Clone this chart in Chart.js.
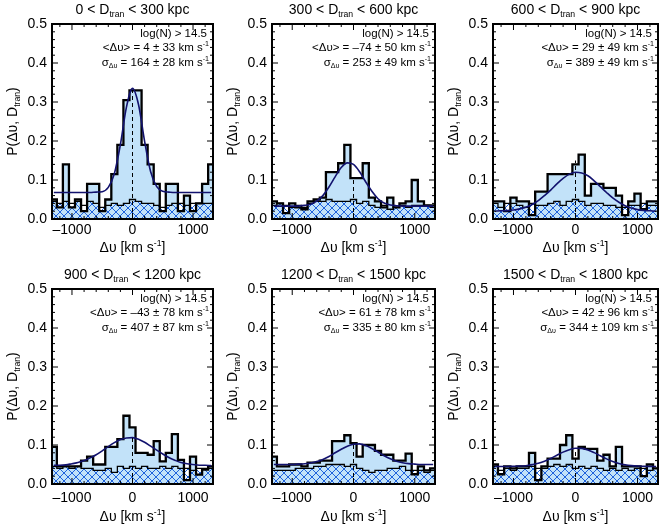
<!DOCTYPE html>
<html>
<head>
<meta charset="utf-8">
<script src="https://cdn.jsdelivr.net/npm/chart.js@4"></script>
<style>
  html, body { margin: 0; padding: 0; background: #fff; }
  #wrap { position: relative; width: 664px; height: 532px; overflow: hidden; }
  #wrap canvas { position: absolute; }
</style>
</head>
<body>
<div id="wrap"></div>
<script>
// bin centres of the velocity histograms (km/s)
const binCenters = [-1300, -1200, -1100, -1000, -900, -800, -700, -600, -500, -400, -300, -200, -100,
  0, 100, 200, 300, 400, 500, 600, 700, 800, 900, 1000, 1100, 1200, 1300];
const BIN_W = 100;

const xTicks = [-1000, 0, 1000];
const xMinor = [-1200, -800, -600, -400, -200, 200, 400, 600, 800, 1200];
const yTicks = [0, 0.1, 0.2, 0.3, 0.4, 0.5];
const yMinor = [0.02, 0.04, 0.06, 0.08, 0.12, 0.14, 0.16, 0.18, 0.22, 0.24, 0.26, 0.28,
  0.32, 0.34, 0.36, 0.38, 0.42, 0.44, 0.46, 0.48];

const dRanges = [[0, 300], [300, 600], [600, 900], [900, 1200], [1200, 1500], [1500, 1800]];
const meanV = [4, -74, 29, -43, 61, 42];
const meanErr = [33, 50, 49, 78, 78, 96];
const sigmaV = [164, 253, 389, 407, 335, 344];
const sigmaErr = [28, 49, 49, 87, 80, 109];

// main histograms (light blue)
const hist1 = [0.05, 0.03, 0.14, 0.03, 0.05, 0.02, 0.09, 0.09, 0.02, 0.05, 0.115, 0.19, 0.305,
  0.33, 0.33, 0.19, 0.14, 0.09, 0.02, 0.09, 0.09, 0.02, 0.06, 0.02, 0.04, 0.09, 0.14];
const hist2 = [0.045, 0.04, 0.015, 0.04, 0.03, 0.025, 0.045, 0.05, 0.055, 0.12, 0.12, 0.143, 0.19,
  0.105, 0.105, 0.143, 0.055, 0.045, 0.03, 0.055, 0.03, 0.04, 0.045, 0.1, 0.045, 0.035, 0.035];
const hist3 = [0.045, 0.045, 0.02, 0.055, 0.045, 0.045, 0.01, 0.07, 0.07, 0.115, 0.115, 0.115, 0.115,
  0.14, 0.165, 0.06, 0.09, 0.09, 0.08, 0.08, 0.06, 0.01, 0.045, 0.065, 0.025, 0.045, 0.045];
const hist4 = [0.095, 0.045, 0.045, 0.045, 0.045, 0.06, 0.07, 0.05, 0.05, 0.095, 0.095, 0.115, 0.175,
  0.145, 0.08, 0.08, 0.075, 0.11, 0.058, 0.08, 0.128, 0.062, 0.01, 0.07, 0.024, 0.037, 0.045];
const hist5 = [0.07, 0.045, 0.045, 0.05, 0.05, 0.045, 0.055, 0.055, 0.06, 0.06, 0.11, 0.11, 0.125,
  0.105, 0.07, 0.1, 0.1, 0.085, 0.075, 0.075, 0.06, 0.06, 0.078, 0.025, 0.045, 0.035, 0.04];
const hist6 = [0.05, 0.025, 0.045, 0.04, 0.045, 0.045, 0.08, 0.01, 0.045, 0.065, 0.065, 0.1, 0.125,
  0.065, 0.095, 0.09, 0.09, 0.06, 0.075, 0.045, 0.095, 0.045, 0.045, 0.045, 0.02, 0.05, 0.04];

// background histograms (hatched)
const bg1 = [0.045, 0.04, 0.045, 0.04, 0.045, 0.035, 0.045, 0.04, 0.03, 0.035, 0.04, 0.035, 0.04,
  0.05, 0.045, 0.04, 0.04, 0.035, 0.03, 0.035, 0.04, 0.04, 0.035, 0.04, 0.04, 0.04, 0.04];
const bg2 = [0.035, 0.04, 0.035, 0.03, 0.035, 0.03, 0.04, 0.045, 0.045, 0.05, 0.045, 0.045, 0.045,
  0.05, 0.04, 0.045, 0.035, 0.03, 0.035, 0.025, 0.03, 0.035, 0.03, 0.035, 0.035, 0.035, 0.03];
const bg3 = [0.04, 0.03, 0.04, 0.04, 0.035, 0.03, 0.04, 0.035, 0.035, 0.04, 0.045, 0.035, 0.045,
  0.05, 0.045, 0.035, 0.04, 0.04, 0.035, 0.035, 0.03, 0.03, 0.035, 0.035, 0.04, 0.035, 0.035];
const bg4 = [0.045, 0.04, 0.045, 0.04, 0.045, 0.04, 0.04, 0.035, 0.035, 0.04, 0.03, 0.045, 0.04,
  0.045, 0.04, 0.045, 0.04, 0.04, 0.045, 0.04, 0.045, 0.04, 0.04, 0.035, 0.04, 0.04, 0.04];
const bg5 = [0.035, 0.035, 0.035, 0.035, 0.04, 0.04, 0.04, 0.045, 0.045, 0.05, 0.05, 0.05, 0.045,
  0.05, 0.04, 0.035, 0.03, 0.035, 0.035, 0.04, 0.04, 0.045, 0.035, 0.035, 0.035, 0.03, 0.035];
const bg6 = [0.045, 0.035, 0.04, 0.035, 0.04, 0.04, 0.045, 0.04, 0.04, 0.045, 0.05, 0.045, 0.05,
  0.04, 0.045, 0.04, 0.045, 0.04, 0.035, 0.04, 0.035, 0.04, 0.035, 0.04, 0.04, 0.035, 0.04];

// gaussian fit curves, read at the bin centres
const fit1 = [0.068, 0.068, 0.068, 0.068, 0.068, 0.068, 0.068, 0.069, 0.070, 0.081, 0.116, 0.191, 0.287,
  0.335, 0.293, 0.199, 0.121, 0.083, 0.071, 0.069, 0.068, 0.068, 0.068, 0.068, 0.068, 0.068, 0.068];
const fit2 = [0.033, 0.033, 0.033, 0.033, 0.0335, 0.035, 0.038, 0.046, 0.060, 0.082, 0.108, 0.132, 0.144,
  0.140, 0.121, 0.095, 0.071, 0.052, 0.041, 0.036, 0.034, 0.033, 0.033, 0.033, 0.033, 0.033, 0.033];
const fit3 = [0.020, 0.021, 0.0215, 0.023, 0.026, 0.030, 0.037, 0.047, 0.060, 0.074, 0.090, 0.104, 0.115,
  0.120, 0.118, 0.111, 0.098, 0.083, 0.068, 0.054, 0.043, 0.034, 0.028, 0.024, 0.022, 0.021, 0.020];
const fit4 = [0.048, 0.048, 0.049, 0.052, 0.055, 0.060, 0.067, 0.075, 0.085, 0.096, 0.106, 0.114, 0.118,
  0.119, 0.115, 0.107, 0.097, 0.087, 0.077, 0.068, 0.061, 0.055, 0.052, 0.050, 0.048, 0.048, 0.047];
const fit5 = [0.050, 0.050, 0.050, 0.050, 0.051, 0.052, 0.054, 0.0575, 0.063, 0.0705, 0.080, 0.089, 0.097,
  0.102, 0.103, 0.099, 0.091, 0.082, 0.0725, 0.0645, 0.0586, 0.0546, 0.0523, 0.051, 0.050, 0.050, 0.050];
const fit6 = [0.045, 0.045, 0.045, 0.0455, 0.046, 0.047, 0.0496, 0.053, 0.0586, 0.0656, 0.0737, 0.0817, 0.0881,
  0.0917, 0.0913, 0.0873, 0.0805, 0.0724, 0.0644, 0.0576, 0.0526, 0.0492, 0.0471, 0.046, 0.0455, 0.045, 0.045];

// height of the dashed line at zero
const dashTop = [0.33, 0.105, 0.15, 0.12, 0.105, 0.09];

const hists = [hist1, hist2, hist3, hist4, hist5, hist6];
const bgs = [bg1, bg2, bg3, bg4, bg5, bg6];
const fits = [fit1, fit2, fit3, fit4, fit5, fit6];

const X_MIN = -1330, X_MAX = 1330;
const FONT = "'Liberation Sans', Arial, Helvetica, sans-serif";
const COLORS = {
  fill: "#c2e2f9",
  hatch: "#1f62dc",
  fit: "#12126e",
  ink: "#000000"
};

// canvas boxes for the 6 panels
const LAYOUT = [
  { left: 0, top: 0, w: 219, h: 262, plotW: 161, tickPad: 3, titleOff: 29 },
  { left: 220, top: 0, w: 221, h: 262, plotW: 163, tickPad: 3, titleOff: 29 },
  { left: 441, top: 0, w: 223, h: 262, plotW: 165, tickPad: 3, titleOff: 29 },
  { left: 0, top: 265, w: 219, h: 267, plotW: 161, tickPad: 6, titleOff: 33 },
  { left: 220, top: 265, w: 221, h: 267, plotW: 163, tickPad: 6, titleOff: 33 },
  { left: 441, top: 265, w: 223, h: 267, plotW: 165, tickPad: 6, titleOff: 33 }
];
const PAD_TOP = 24, Y_AXIS_W = 52, PLOT_H = 195;

function makeHatch() {
  const s = 8;
  const c = document.createElement("canvas");
  c.width = s; c.height = s;
  const g = c.getContext("2d");
  g.strokeStyle = COLORS.hatch;
  g.lineWidth = 1;
  g.beginPath();
  g.moveTo(-1, -1); g.lineTo(s + 1, s + 1);
  g.moveTo(s + 1, -1); g.lineTo(-1, s + 1);
  g.stroke();
  return g.createPattern(c, "repeat");
}

function stepPoints(vals) {
  const pts = binCenters.map((c, i) => ({ x: c - BIN_W / 2, y: vals[i] }));
  pts.push({ x: binCenters[binCenters.length - 1] + BIN_W / 2, y: vals[vals.length - 1] });
  return pts;
}

function fmtNum(v) {
  return v < 0 ? "\u2013" + Math.abs(v) : String(v);
}

function drawRich(ctx, parts, x, y, size, align) {
  const fontFor = (k) => (k ? size * 0.62 : size) + "px " + FONT;
  let w = 0;
  parts.forEach(([t, k]) => { ctx.font = fontFor(k); w += ctx.measureText(t).width; });
  let cx = align === "right" ? x - w : align === "center" ? x - w / 2 : x;
  ctx.textAlign = "left";
  ctx.textBaseline = "middle";
  parts.forEach(([t, k]) => {
    ctx.font = fontFor(k);
    const dy = k === "sub" ? size * 0.3 : k === "sup" ? -size * 0.33 : 0;
    ctx.fillText(t, cx, y + dy);
    cx += ctx.measureText(t).width;
  });
}

const decor = {
  id: "decor",
  afterDatasetsDraw(chart, args, opts) {
    const i = opts.panel;
    const { ctx, chartArea: a, scales: { x, y } } = chart;
    ctx.save();
    ctx.strokeStyle = COLORS.ink;
    ctx.fillStyle = COLORS.ink;

    // inward tick marks on all four sides
    ctx.lineWidth = 1;
    ctx.beginPath();
    const xt = (v, len) => {
      const px = x.getPixelForValue(v);
      ctx.moveTo(px, a.bottom); ctx.lineTo(px, a.bottom - len);
      ctx.moveTo(px, a.top); ctx.lineTo(px, a.top + len);
    };
    const yt = (v, len) => {
      const py = y.getPixelForValue(v);
      ctx.moveTo(a.left, py); ctx.lineTo(a.left + len, py);
      ctx.moveTo(a.right, py); ctx.lineTo(a.right - len, py);
    };
    xTicks.forEach(v => xt(v, 6));
    xMinor.forEach(v => xt(v, 3));
    yTicks.forEach(v => yt(v, 6));
    yMinor.forEach(v => yt(v, 3));
    ctx.stroke();

    // frame
    ctx.lineWidth = 2;
    ctx.strokeRect(a.left, a.top, a.right - a.left, a.bottom - a.top);

    // panel title
    const cxm = (a.left + a.right) / 2;
    const r = dRanges[i];
    drawRich(ctx, [[r[0] + " < D", ""], ["tran", "sub"], [" < " + r[1] + " kpc", ""]],
      cxm, a.top - 14, 14, "center");

    // axis titles
    drawRich(ctx, [["\u0394\u03c5 [km s", ""], ["-1", "sup"], ["]", ""]],
      cxm, a.bottom + opts.titleOff, 14, "center");
    ctx.save();
    ctx.translate(a.left - 39, (a.top + a.bottom) / 2);
    ctx.rotate(-Math.PI / 2);
    drawRich(ctx, [["P(\u0394\u03c5, D", ""], ["tran", "sub"], [")", ""]], 0, 0, 14, "center");
    ctx.restore();

    // fit annotation
    const rx = a.right - 6;
    drawRich(ctx, [["log(N) > 14.5", ""]], rx, a.top + 9.5, 11.5, "right");
    drawRich(ctx, [["<\u0394\u03c5> = " + fmtNum(meanV[i]) + " \u00b1 " + meanErr[i] + " km s", ""], ["-1", "sup"]],
      rx + 2, a.top + 24, 11.5, "right");
    drawRich(ctx, [["\u03c3", ""], ["\u0394\u03c5", "sub"], [" = " + sigmaV[i] + " \u00b1 " + sigmaErr[i] + " km s", ""], ["-1", "sup"]],
      rx + 2, a.top + 39, 11.5, "right");
    ctx.restore();
  }
};

const wrap = document.getElementById("wrap");
const hatch = makeHatch();

LAYOUT.forEach((box, i) => {
  const canvas = document.createElement("canvas");
  canvas.width = box.w; canvas.height = box.h;
  canvas.style.left = box.left + "px";
  canvas.style.top = box.top + "px";
  canvas.style.width = box.w + "px";
  canvas.style.height = box.h + "px";
  wrap.appendChild(canvas);

  const xAxisH = box.h - PAD_TOP - PLOT_H;
  const rightPad = box.w - Y_AXIS_W - box.plotW;

  new Chart(canvas, {
    type: "line",
    data: {
      datasets: [
        {
          label: "zero",
          data: [{ x: 0, y: 0 }, { x: 0, y: dashTop[i] }],
          borderColor: COLORS.ink,
          borderWidth: 1,
          borderDash: [4, 3],
          pointRadius: 0,
          fill: false,
          order: 0
        },
        {
          label: "fit",
          data: binCenters.map((c, j) => ({ x: c, y: fits[i][j] })),
          borderColor: COLORS.fit,
          borderWidth: 1.6,
          cubicInterpolationMode: "monotone",
          pointRadius: 0,
          fill: false,
          order: 1
        },
        {
          label: "histogram",
          data: stepPoints(hists[i]),
          stepped: "before",
          borderColor: COLORS.ink,
          borderWidth: 2.3,
          pointRadius: 0,
          fill: false,
          order: 2
        },
        {
          label: "background",
          data: stepPoints(bgs[i]),
          stepped: "before",
          borderColor: COLORS.ink,
          borderWidth: 1.3,
          backgroundColor: hatch,
          fill: "origin",
          pointRadius: 0,
          order: 3
        },
        {
          label: "histogram fill",
          data: stepPoints(hists[i]),
          stepped: "before",
          borderColor: "rgba(0,0,0,0)",
          borderWidth: 0,
          backgroundColor: COLORS.fill,
          fill: "origin",
          pointRadius: 0,
          order: 4
        }
      ]
    },
    options: {
      responsive: false,
      animation: false,
      devicePixelRatio: 1,
      layout: { padding: { top: PAD_TOP, right: rightPad, left: 0, bottom: 0 } },
      plugins: {
        legend: { display: false },
        tooltip: { enabled: false },
        decor: { panel: i, titleOff: box.titleOff }
      },
      scales: {
        x: {
          type: "linear",
          min: X_MIN,
          max: X_MAX,
          grid: { display: false, drawTicks: false },
          border: { display: false },
          afterBuildTicks: (axis) => { axis.ticks = xTicks.map(v => ({ value: v })); },
          afterFit: (scale) => { scale.height = xAxisH; },
          ticks: {
            color: COLORS.ink,
            font: { family: FONT, size: 14 },
            padding: box.tickPad,
            maxRotation: 0,
            autoSkip: false,
            callback: (v) => fmtNum(v)
          }
        },
        y: {
          type: "linear",
          min: 0,
          max: 0.5,
          grid: { display: false, drawTicks: false },
          border: { display: false },
          afterBuildTicks: (axis) => { axis.ticks = yTicks.map(v => ({ value: v })); },
          afterFit: (scale) => { scale.width = Y_AXIS_W; },
          ticks: {
            color: COLORS.ink,
            font: { family: FONT, size: 14 },
            padding: 5,
            autoSkip: false,
            callback: (v) => v.toFixed(1)
          }
        }
      }
    },
    plugins: [decor]
  });
});
</script>
</body>
</html>
